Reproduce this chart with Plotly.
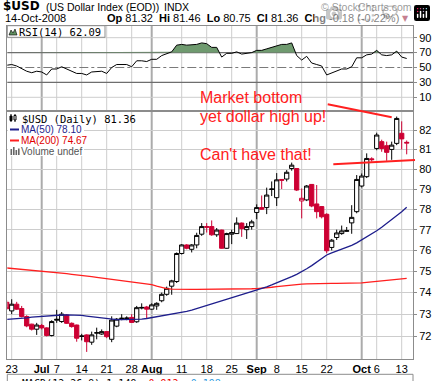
import math
import pandas as pd
import plotly.graph_objects as go

W, H = 436, 381


def px(x):
    return x / W


def py(y):
    return 1 - y / H


# ---------------- data ----------------
holidays = ["2008-07-04", "2008-09-01"]
dates = [d.strftime("%Y-%m-%d") for d in pd.bdate_range("2008-06-20", "2008-10-14")
         if d.strftime("%Y-%m-%d") not in holidays]

opens = [73.55, 73.15, 73.46, 73.26, 72.89, 72.54, 72.31, 72.48, 72.37, 72.02,
         72.72, 72.66, 72.96, 72.58, 72.50, 71.98, 72.05, 71.72, 72.13, 72.09,
         72.20, 71.85, 72.45, 72.80, 72.80, 72.85, 72.65, 73.28, 73.33, 73.23,
         73.38, 73.62, 73.92, 74.30, 74.52, 75.85, 76.26, 76.05, 76.26, 76.78,
         77.15, 77.15, 76.75, 76.98, 76.10, 76.78, 76.81, 77.32, 77.00, 77.15,
         77.84, 78.08, 78.08, 78.98, 78.57, 79.48, 79.50, 80.03, 80.03, 78.41,
         78.46, 79.23, 78.26, 78.13, 77.75, 76.14, 76.62, 76.81, 76.92, 77.33,
         77.88, 79.15, 79.62, 80.52, 81.05, 81.40, 81.19, 81.00, 81.31, 81.83,
         81.32]
highs = [73.65, 73.69, 73.57, 73.38, 72.95, 72.56, 72.60, 72.55, 72.40, 72.72,
         73.20, 73.10, 73.00, 72.62, 72.52, 72.10, 72.08, 72.20, 72.38, 72.30,
         72.22, 72.90, 72.82, 73.00, 72.90, 73.00, 73.38, 73.50, 73.38, 73.50,
         73.55, 74.00, 74.28, 74.60, 75.90, 76.30, 76.30, 76.30, 76.85, 77.32,
         77.32, 77.45, 77.08, 77.00, 76.85, 77.00, 77.60, 77.35, 77.32, 77.48,
         78.24, 78.68, 79.07, 79.38, 79.80, 79.50, 79.95, 80.33, 80.05, 79.03,
         79.20, 79.25, 79.20, 78.15, 77.80, 76.55, 77.00, 77.20, 77.13, 78.20,
         79.70, 79.78, 80.80, 80.60, 81.86, 81.50, 81.40, 81.40, 82.70, 82.45,
         81.46]
lows = [73.20, 73.00, 73.20, 72.85, 72.40, 72.25, 72.05, 72.30, 71.98, 71.98,
        72.60, 72.60, 72.55, 72.38, 71.74, 71.80, 71.28, 71.60, 71.85, 72.05,
        71.90, 71.72, 72.40, 72.72, 72.72, 72.60, 72.60, 73.22, 72.80, 73.20,
        73.20, 73.55, 73.85, 73.90, 74.45, 75.80, 76.05, 75.90, 76.10, 76.70,
        76.86, 76.70, 76.65, 76.08, 76.08, 76.30, 76.80, 76.65, 76.55, 77.00,
        77.51, 77.98, 77.76, 78.65, 78.16, 79.00, 79.38, 79.92, 78.90, 77.55,
        78.40, 78.10, 77.55, 77.55, 75.86, 76.00, 76.50, 76.75, 76.90, 76.80,
        77.80, 79.08, 79.55, 80.38, 80.96, 80.88, 80.42, 80.47, 81.22, 81.00,
        80.75]
closes = [73.25, 73.46, 73.23, 72.89, 72.46, 72.31, 72.50, 72.37, 72.02, 72.66,
          72.76, 73.00, 72.58, 72.43, 71.90, 72.00, 71.74, 72.05, 72.15, 72.20,
          71.97, 72.73, 72.77, 72.81, 72.82, 72.62, 73.30, 73.31, 73.23, 73.43,
          73.50, 73.92, 74.20, 74.55, 75.85, 76.26, 76.10, 76.26, 76.72, 77.15,
          77.12, 76.75, 76.98, 76.10, 76.81, 76.86, 77.32, 77.05, 77.15, 77.38,
          78.08, 78.00, 78.70, 79.00, 79.46, 79.44, 79.84, 80.20, 78.95, 78.54,
          79.15, 78.16, 77.88, 77.63, 75.98, 76.49, 76.84, 76.94, 76.95, 77.60,
          79.48, 79.65, 80.54, 80.48, 81.74, 81.05, 80.85, 81.22, 82.60, 81.54,
          81.36]
ma50 = [72.76, 72.77, 72.79, 72.81, 72.83, 72.86, 72.88, 72.90, 72.92, 72.95,
        72.96, 72.96, 72.97, 72.97, 72.96, 72.94, 72.91, 72.88, 72.85, 72.81,
        72.78, 72.76, 72.75, 72.75, 72.75, 72.76, 72.76, 72.77, 72.80, 72.84,
        72.88, 72.92, 72.95, 72.98, 73.03, 73.08, 73.13, 73.19, 73.26, 73.33,
        73.41, 73.48, 73.56, 73.63, 73.70, 73.77, 73.84, 73.90, 73.96, 74.03,
        74.10, 74.18, 74.27, 74.36, 74.45, 74.55, 74.65, 74.75, 74.86, 74.98,
        75.12, 75.27, 75.43, 75.60, 75.78, 75.88, 75.97, 76.06, 76.14, 76.24,
        76.36, 76.50, 76.64, 76.79, 76.95, 77.12, 77.30, 77.48, 77.67, 77.88,
        78.10]
ma200 = [75.16, 75.14, 75.12, 75.10, 75.08, 75.06, 75.04, 75.02, 75.00, 74.98,
         74.95, 74.92, 74.89, 74.86, 74.84, 74.81, 74.78, 74.75, 74.72, 74.69,
         74.66, 74.63, 74.60, 74.57, 74.54, 74.51, 74.47, 74.44, 74.41, 74.37,
         74.30, 74.24, 74.19, 74.16, 74.15, 74.15, 74.15, 74.15, 74.15, 74.15,
         74.15, 74.15, 74.15, 74.15, 74.15, 74.15, 74.15, 74.16, 74.17, 74.18,
         74.19, 74.20, 74.22, 74.25, 74.28, 74.31, 74.34, 74.36, 74.38, 74.40,
         74.41, 74.42, 74.43, 74.43, 74.43, 74.43, 74.43, 74.43, 74.43, 74.43,
         74.44, 74.46, 74.48, 74.50, 74.52, 74.54, 74.56, 74.59, 74.61, 74.64,
         74.67]
rsi = [53, 54, 52, 48, 45, 43, 45, 44, 40, 48,
       48, 51, 48, 46, 42, 42, 40, 44, 45, 45,
       42, 50, 54, 54, 54, 51, 59, 59, 58, 61,
       61, 66, 68, 71, 80, 81, 80, 80, 81, 83,
       82, 77, 77, 64, 69, 69, 71, 68, 69, 70,
       73, 73, 75, 77, 78, 81, 81, 83, 66, 60,
       65, 56, 54, 52, 40, 43, 46, 48, 48, 51,
       63, 63, 67, 68, 73, 67, 66, 67, 72, 64,
       62.09]

tick_dates = ["2008-06-23", "2008-07-01", "2008-07-07", "2008-07-14", "2008-07-21",
              "2008-07-28", "2008-08-01", "2008-08-11", "2008-08-18", "2008-08-25",
              "2008-09-02", "2008-09-08", "2008-09-15", "2008-09-22", "2008-10-01",
              "2008-10-06", "2008-10-13"]
tick_text = ["23", "<b>Jul</b>", "7", "14", "21", "28", "<b>Aug</b>", "11", "18", "25",
             "<b>Sep</b>", "8", "15", "22", "<b>Oct</b>", "6", "13"]
month_dates = ["2008-07-01", "2008-08-01", "2008-09-02", "2008-10-01"]
price_ticks = [72, 73, 74, 75, 76, 77, 78, 79, 80, 81, 82]
rsi_ticks = [10, 30, 50, 70, 90]
quote_labels = ["Op", "Hi", "Lo", "Cl", "Chg"]
quote_values = ["81.32", "81.46", "80.75", "81.36", "-0.18 (-0.22%)"]

n = len(dates)
for arr in (opens, highs, lows, closes, ma50, ma200, rsi):
    assert len(arr) == n, (len(arr), n)

# ---------------- styles ----------------
FONT = "Liberation Sans, Arial, sans-serif"
MONO = "DejaVu Sans Mono, monospace"
GRID = "#cdcdcd"
MONTH = "#ababab"
BORDER = "#8c8c8c"
RED_C = "#cc0033"
NAVY = "#1e1e8c"
MA_RED = "#ff1f1f"
NOTE_RED = "#ff2020"

x = list(range(n))
tickvals = [dates.index(d) for d in tick_dates]

fig = go.Figure()

# moving averages (under the candles)
fig.add_trace(go.Scatter(x=x, y=ma200, mode="lines", line=dict(color=MA_RED, width=1.3),
                         xaxis="x", yaxis="y", hoverinfo="skip"))
fig.add_trace(go.Scatter(x=x, y=ma50, mode="lines", line=dict(color=NAVY, width=1.3),
                         xaxis="x", yaxis="y", hoverinfo="skip"))

# candles: black when close >= previous close, red otherwise; hollow when close > open
prev = [opens[0]] + closes[:-1]
groups = {"black": [k for k in x if closes[k] >= prev[k]],
          RED_C: [k for k in x if closes[k] < prev[k]]}
for color, idx in groups.items():
    fig.add_trace(go.Candlestick(
        x=[x[k] for k in idx],
        open=[opens[k] for k in idx], high=[highs[k] for k in idx],
        low=[lows[k] for k in idx], close=[closes[k] for k in idx],
        increasing=dict(line=dict(color=color, width=1), fillcolor="white"),
        decreasing=dict(line=dict(color=color, width=1), fillcolor=color),
        whiskerwidth=0, xaxis="x", yaxis="y", hoverinfo="skip", showlegend=False))

# RSI: green fill above 70
fx, fy = [], []
for k in range(n):
    if k > 0:
        a, b = rsi[k - 1], rsi[k]
        if (a - 70) * (b - 70) < 0:
            t = (70 - a) / (b - a)
            fx.append(x[k - 1] + t)
            fy.append(70)
    fx.append(x[k])
    fy.append(max(rsi[k], 70))
fig.add_trace(go.Scatter(x=fx, y=[70] * len(fx), mode="lines", line=dict(width=0),
                         xaxis="x2", yaxis="y2", hoverinfo="skip"))
fig.add_trace(go.Scatter(x=fx, y=fy, mode="lines", line=dict(width=0), fill="tonexty",
                         fillcolor="#6f9a6f", xaxis="x2", yaxis="y2", hoverinfo="skip"))
fig.add_trace(go.Scatter(x=x, y=rsi, mode="lines", line=dict(color="black", width=1),
                         xaxis="x2", yaxis="y2", hoverinfo="skip"))

# ---------------- geometry ----------------
X_L, X_R = 7.3, 413
P_TOP, P_BOT = 110.5, 359
R_TOP = 25.7
K = 1584.0  # pixels per ln-unit
p_top = 82 * math.exp((130 - P_TOP) / K)
p_bot = 82 * math.exp(-(P_BOT - 130) / K)
r_scale = 0.745
r_top = 50 + (67.5 - R_TOP) / r_scale
r_bot = 50 - (P_TOP - 67.5) / r_scale
x_range = [0.12, 81.26]

shapes = []
# vertical grid: weekly lines thin, month starts thick
for td in tick_dates:
    xi = dates.index(td)
    thick = td in month_dates
    for xr, yr in (("x", "y"), ("x2", "y2")):
        shapes.append(dict(type="line", xref=xr, yref=yr + " domain", x0=xi, x1=xi, y0=0, y1=1,
                           line=dict(color=MONTH if thick else GRID, width=2 if thick else 1),
                           layer="below"))
# RSI reference lines
for lvl, col, dash, wd in ((10, GRID, "solid", 1), (90, GRID, "solid", 1),
                           (30, "#6e6e6e", "solid", 1.2), (70, "#6e6e6e", "solid", 1.2),
                           (50, "#7a7a7a", "dashdot", 1)):
    shapes.append(dict(type="line", xref="x2 domain", yref="y2", x0=0, x1=1, y0=lvl, y1=lvl,
                       line=dict(color=col, width=wd, dash=dash), layer="below"))


def prect(x0, y0, x1, y1, fill, lc=None, lw=0):
    shapes.append(dict(type="rect", xref="paper", yref="paper", x0=px(x0), x1=px(x1),
                       y0=py(y1), y1=py(y0), fillcolor=fill,
                       line=dict(color=lc or fill, width=lw), layer="above"))


def pline(x0, y0, x1, y1, color, width):
    shapes.append(dict(type="line", xref="paper", yref="paper", x0=px(x0), y0=py(y0),
                       x1=px(x1), y1=py(y1), line=dict(color=color, width=width), layer="above"))


# RSI legend box and icon
prect(7.3, 25.7, 105, 37.3, "white", BORDER, 1)
shapes.append(dict(type="path", xref="paper", yref="paper",
                   path="M{},{} L{},{} L{},{} L{},{} L{},{} Z".format(
                       px(9), py(35), px(11), py(30), px(13), py(33), px(15), py(29), px(17), py(35)),
                   fillcolor="#5f8f5f", line=dict(color="black", width=0.6), layer="above"))
# price legend backgrounds
prect(8, 112, 84, 156, "white")
prect(84, 112, 131, 124, "white")
# $USD icon (mini candles)
pline(11, 114, 11, 122, "black", 1)
prect(10, 116, 12, 120.5, "black", "black", 1)
pline(15, 114, 15, 122, "black", 1)
prect(14, 115.5, 16, 120, "white", "black", 1)
# MA legend dashes
pline(10, 129.5, 19, 129.5, NAVY, 2)
pline(10, 140.5, 19, 140.5, MA_RED, 2)
# volume icon bars
for bx, btop in ((10.5, 149), (13, 147), (15.5, 150), (18, 148.5)):
    prect(bx, btop, bx + 1.6, 155, "#666666")
# hand-drawn trend lines
pline(327.7, 104.3, 391.7, 117.3, NOTE_RED, 2)
pline(333.3, 164.3, 415, 160, NOTE_RED, 2)
# MACD panel top (cut off by page edge)
pline(X_L, 374.3, X_R, 374.3, BORDER, 1)
pline(X_L, 374.3, X_L, 382, BORDER, 1)
pline(X_R, 374.3, X_R, 382, BORDER, 1)

ann = []


def note(text, xp, yp, size=11, color="black", family=FONT, xanchor="left", yanchor="middle"):
    ann.append(dict(text=text, x=px(xp), y=py(yp), xref="paper", yref="paper", showarrow=False,
                    xanchor=xanchor, yanchor=yanchor,
                    font=dict(size=size, color=color, family=family), borderpad=0))


note("<b>$USD</b>", 1.5, 6, size=12, family="DejaVu Sans, sans-serif")
note("(US Dollar Index (EOD))", 44.5, 6.5, size=10.5)
note("INDX", 162.5, 6.5, size=10.5)
note("© StockCharts.com", 413, 6.5, size=10.5, color="#333333", xanchor="right")
note("14-Oct-2008", 4, 18.5, size=11)
quote = "  ".join("<b>{}</b> {}".format(lab, val) for lab, val in zip(quote_labels, quote_values))
note(quote, 400, 18.5, size=11, xanchor="right")
note("▼", 405.5, 18.5, size=8, color="#8b0020", xanchor="center", family="DejaVu Sans, sans-serif")
note("RSI(14) 62.09", 18, 32, size=10.5, family=MONO)
note("$USD (Daily) 81.36", 21, 118.5, size=10.5, family=MONO)
note("MA(50) 78.10", 20, 129.5, size=10, color=NAVY)
note("MA(200) 74.67", 20, 140.5, size=10, color="#e00000")
note("Volume undef", 20, 151, size=10, color="#555555")
note("Market bottom", 199, 97, size=16, color=NOTE_RED)
note("yet dollar high up!", 199, 116, size=16, color=NOTE_RED)
note("Can't have that!", 199, 154, size=16, color=NOTE_RED)
note("— MACD(12,26,9) 1.149, <span style='color:#ee0000'>0.912,</span> "
     "<span style='color:#2b9be0'>0.198</span>", 9, 376.5, size=10, family=MONO, yanchor="top")

axis_common = dict(showline=True, linecolor=BORDER, linewidth=1, mirror=True, zeroline=False,
                   fixedrange=True)

fig.update_layout(
    template="none",
    width=W, height=H, margin=dict(l=0, r=0, t=0, b=0),
    paper_bgcolor="white", plot_bgcolor="rgba(0,0,0,0)", showlegend=False,
    boxmode="overlay", boxgap=0.15, boxgroupgap=0,
    font=dict(family=FONT, size=11, color="black"),
    xaxis=dict(domain=[px(X_L), px(X_R)], anchor="y", range=x_range, tickmode="array",
               tickvals=tickvals, ticktext=tick_text, showgrid=False,
               ticks="", tickfont=dict(size=11, family=FONT, color="black"),
               rangeslider=dict(visible=False), **axis_common),
    xaxis2=dict(domain=[px(X_L), px(X_R)], anchor="y2", matches="x", tickmode="array",
                tickvals=tickvals, showticklabels=False, showgrid=False, ticks="", **axis_common),
    yaxis=dict(domain=[py(P_BOT), py(P_TOP)], anchor="x", type="log",
               range=[math.log10(p_bot), math.log10(p_top)], side="right", tickmode="array",
               tickvals=price_ticks, ticktext=[str(v) for v in price_ticks], showgrid=True,
               gridcolor=GRID, gridwidth=1, ticks="outside", ticklen=3, tickcolor=BORDER,
               tickfont=dict(size=11, family=FONT, color="black"), **axis_common),
    yaxis2=dict(domain=[py(P_TOP), py(R_TOP)], anchor="x2", range=[r_bot, r_top], side="right",
                tickmode="array", tickvals=rsi_ticks, ticktext=[str(v) for v in rsi_ticks],
                showgrid=False, ticks="outside", ticklen=3, tickcolor=BORDER,
                tickfont=dict(size=11, family=FONT, color="black"), **axis_common),
    shapes=shapes,
    annotations=ann,
)

fig.write_html("out.html", post_script="document.body.style.margin='0px';")
